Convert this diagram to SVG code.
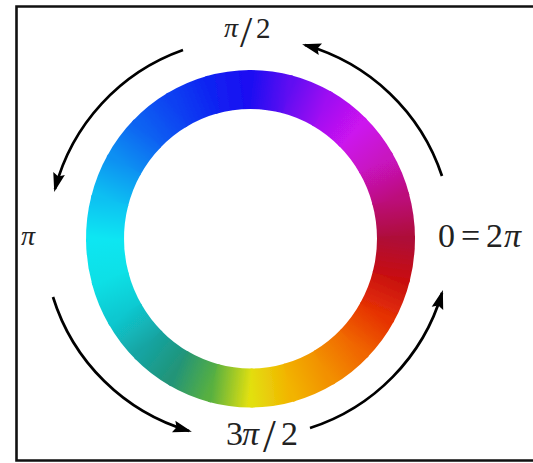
<svg xmlns="http://www.w3.org/2000/svg" width="533" height="463" viewBox="0 0 533 463">
  <style>
    .lbl { font-family: "Liberation Serif", "Times New Roman", serif; fill: #222; }
    .it { font-style: italic; }
    .arc { fill: none; stroke: #000; stroke-width: 2.7; marker-end: url(#ah); }
    .seg { fill: none; stroke-width: 38; }
  </style>
  <defs>
    <marker id="ah" markerUnits="userSpaceOnUse" markerWidth="19" markerHeight="13" viewBox="0 0 19 13" refX="16" refY="6.5" orient="auto">
      <path d="M0,0.5 L19,6.5 L0,12.5 L3,6.5 z" fill="#000"/>
    </marker>
    <filter id="soft" x="-10%" y="-10%" width="120%" height="120%">
      <feGaussianBlur stdDeviation="0.7"/>
    </filter>
    <path id="seg" d="M145.5,0 A145.5,145.5 0 0 0 139.86,-40.11"/>
    <linearGradient id="g" gradientUnits="userSpaceOnUse" x1="145.5" y1="0" x2="140.54" y2="-37.66"/>
    <linearGradient id="g0" href="#g"><stop offset="0" stop-color="#ae0838"/><stop offset="1" stop-color="#bc107a"/></linearGradient>
    <linearGradient id="g1" href="#g"><stop offset="0" stop-color="#bc107a"/><stop offset="1" stop-color="#c812c0"/></linearGradient>
    <linearGradient id="g2" href="#g"><stop offset="0" stop-color="#c812c0"/><stop offset="1" stop-color="#cc12ee"/></linearGradient>
    <linearGradient id="g3" href="#g"><stop offset="0" stop-color="#cc12ee"/><stop offset="1" stop-color="#a010f2"/></linearGradient>
    <linearGradient id="g4" href="#g"><stop offset="0" stop-color="#a010f2"/><stop offset="1" stop-color="#6010f2"/></linearGradient>
    <linearGradient id="g5" href="#g"><stop offset="0" stop-color="#6010f2"/><stop offset="1" stop-color="#1c0cf2"/></linearGradient>
    <linearGradient id="g6" href="#g"><stop offset="0" stop-color="#1c0cf2"/><stop offset="1" stop-color="#1022f2"/></linearGradient>
    <linearGradient id="g7" href="#g"><stop offset="0" stop-color="#1022f2"/><stop offset="1" stop-color="#1040f2"/></linearGradient>
    <linearGradient id="g8" href="#g"><stop offset="0" stop-color="#1040f2"/><stop offset="1" stop-color="#1062f2"/></linearGradient>
    <linearGradient id="g9" href="#g"><stop offset="0" stop-color="#1062f2"/><stop offset="1" stop-color="#1090f2"/></linearGradient>
    <linearGradient id="g10" href="#g"><stop offset="0" stop-color="#1090f2"/><stop offset="1" stop-color="#10c0f2"/></linearGradient>
    <linearGradient id="g11" href="#g"><stop offset="0" stop-color="#10c0f2"/><stop offset="1" stop-color="#10e6f2"/></linearGradient>
    <linearGradient id="g12" href="#g"><stop offset="0" stop-color="#10e6f2"/><stop offset="1" stop-color="#10e0e6"/></linearGradient>
    <linearGradient id="g13" href="#g"><stop offset="0" stop-color="#10e0e6"/><stop offset="1" stop-color="#10c8d0"/></linearGradient>
    <linearGradient id="g14" href="#g"><stop offset="0" stop-color="#10c8d0"/><stop offset="1" stop-color="#14a4a2"/></linearGradient>
    <linearGradient id="g15" href="#g"><stop offset="0" stop-color="#14a4a2"/><stop offset="1" stop-color="#229478"/></linearGradient>
    <linearGradient id="g16" href="#g"><stop offset="0" stop-color="#229478"/><stop offset="1" stop-color="#58b040"/></linearGradient>
    <linearGradient id="g17" href="#g"><stop offset="0" stop-color="#58b040"/><stop offset="1" stop-color="#e2e010"/></linearGradient>
    <linearGradient id="g18" href="#g"><stop offset="0" stop-color="#e2e010"/><stop offset="1" stop-color="#f2b400"/></linearGradient>
    <linearGradient id="g19" href="#g"><stop offset="0" stop-color="#f2b400"/><stop offset="1" stop-color="#f29000"/></linearGradient>
    <linearGradient id="g20" href="#g"><stop offset="0" stop-color="#f29000"/><stop offset="1" stop-color="#f06600"/></linearGradient>
    <linearGradient id="g21" href="#g"><stop offset="0" stop-color="#f06600"/><stop offset="1" stop-color="#e63204"/></linearGradient>
    <linearGradient id="g22" href="#g"><stop offset="0" stop-color="#e63204"/><stop offset="1" stop-color="#c81010"/></linearGradient>
    <linearGradient id="g23" href="#g"><stop offset="0" stop-color="#c81010"/><stop offset="1" stop-color="#ae0838"/></linearGradient>
  </defs>

  <rect x="0" y="0" width="533" height="463" fill="#fff"/>
  <path id="frame" d="M533,6.5 H16.5 V460.5 H533" fill="none" stroke="#111" stroke-width="2.6"/>

  <g id="ring" transform="translate(250.5,238.7) scale(1,1.026)" filter="url(#soft)">
    <use href="#seg" class="seg" stroke="url(#g0)" transform="rotate(0)"/>
    <use href="#seg" class="seg" stroke="url(#g1)" transform="rotate(-15)"/>
    <use href="#seg" class="seg" stroke="url(#g2)" transform="rotate(-30)"/>
    <use href="#seg" class="seg" stroke="url(#g3)" transform="rotate(-45)"/>
    <use href="#seg" class="seg" stroke="url(#g4)" transform="rotate(-60)"/>
    <use href="#seg" class="seg" stroke="url(#g5)" transform="rotate(-75)"/>
    <use href="#seg" class="seg" stroke="url(#g6)" transform="rotate(-90)"/>
    <use href="#seg" class="seg" stroke="url(#g7)" transform="rotate(-105)"/>
    <use href="#seg" class="seg" stroke="url(#g8)" transform="rotate(-120)"/>
    <use href="#seg" class="seg" stroke="url(#g9)" transform="rotate(-135)"/>
    <use href="#seg" class="seg" stroke="url(#g10)" transform="rotate(-150)"/>
    <use href="#seg" class="seg" stroke="url(#g11)" transform="rotate(-165)"/>
    <use href="#seg" class="seg" stroke="url(#g12)" transform="rotate(-180)"/>
    <use href="#seg" class="seg" stroke="url(#g13)" transform="rotate(-195)"/>
    <use href="#seg" class="seg" stroke="url(#g14)" transform="rotate(-210)"/>
    <use href="#seg" class="seg" stroke="url(#g15)" transform="rotate(-225)"/>
    <use href="#seg" class="seg" stroke="url(#g16)" transform="rotate(-240)"/>
    <use href="#seg" class="seg" stroke="url(#g17)" transform="rotate(-255)"/>
    <use href="#seg" class="seg" stroke="url(#g18)" transform="rotate(-270)"/>
    <use href="#seg" class="seg" stroke="url(#g19)" transform="rotate(-285)"/>
    <use href="#seg" class="seg" stroke="url(#g20)" transform="rotate(-300)"/>
    <use href="#seg" class="seg" stroke="url(#g21)" transform="rotate(-315)"/>
    <use href="#seg" class="seg" stroke="url(#g22)" transform="rotate(-330)"/>
    <use href="#seg" class="seg" stroke="url(#g23)" transform="rotate(-345)"/>
  </g>

  <g id="connectors">
    <path class="arc" d="M442,176 A202,202 0 0 0 305,45"/>
    <path class="arc" d="M183,50 A202,202 0 0 0 55,189"/>
    <path class="arc" d="M53,297 A202,202 0 0 0 189,431"/>
    <path class="arc" d="M310,428 A202,202 0 0 0 442,293"/>
  </g>

  <g id="label-top">
    <text class="lbl" font-size="28"><tspan class="it" x="224" y="37">π</tspan><tspan x="240" y="47" font-size="44">/</tspan><tspan x="256" y="38" font-size="29">2</tspan></text>
  </g>
  <g id="label-left">
    <text class="lbl it" x="21" y="245" font-size="28">π</text>
  </g>
  <g id="label-right">
    <text class="lbl" font-size="34"><tspan x="438" y="247">0</tspan><tspan x="461" y="247">=</tspan><tspan x="486" y="247">2</tspan><tspan class="it" x="504" y="247">π</tspan></text>
  </g>
  <g id="label-bottom">
    <text class="lbl" font-size="34"><tspan x="226" y="445">3</tspan><tspan class="it" x="242" y="445">π</tspan><tspan x="263" y="452" font-size="46">/</tspan><tspan x="281" y="445">2</tspan></text>
  </g>
</svg>
